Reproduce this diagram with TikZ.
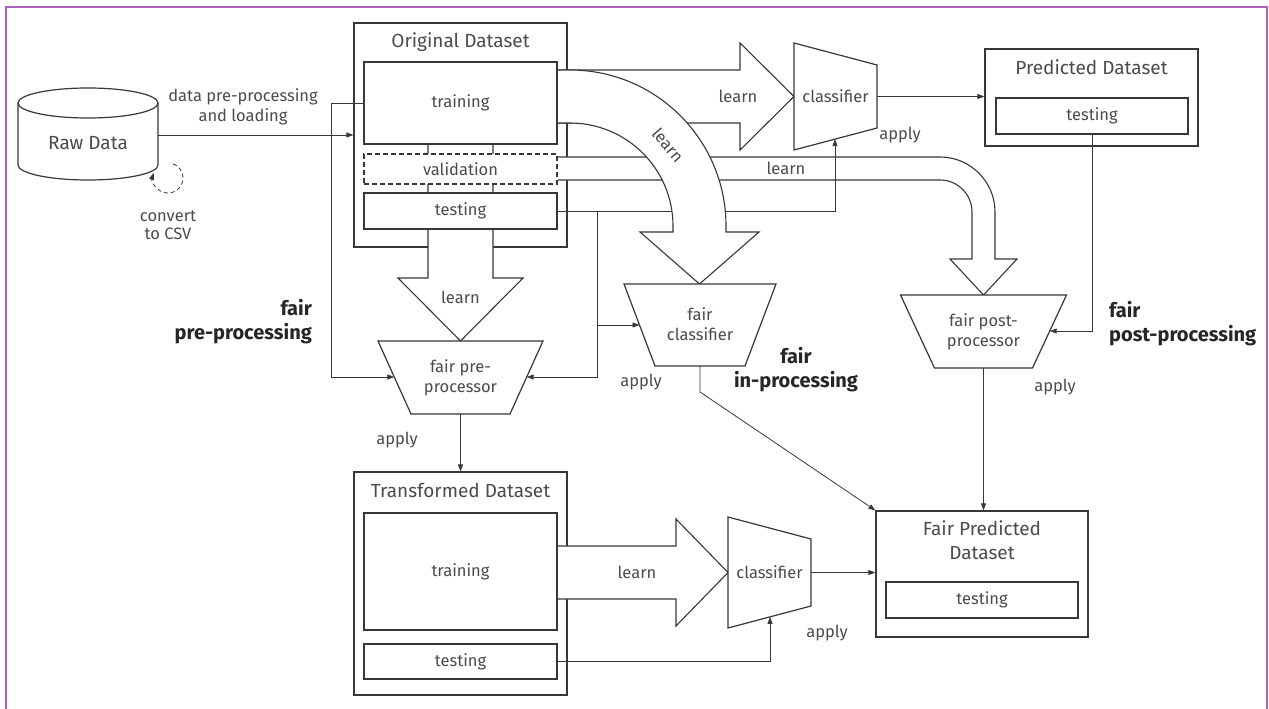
\documentclass[tikz,border=0pt]{standalone}
\usepackage{fontspec}
\setmainfont{Fira Sans}
\usetikzlibrary{arrows.meta}
\definecolor{framepurple}{RGB}{172,98,188}
\definecolor{ink}{RGB}{55,55,55}
\definecolor{txtgray}{RGB}{75,75,75}

\begin{document}
\begin{tikzpicture}[x=1pt,y=-1pt,
    box/.style={draw=ink,line width=1.2pt,fill=white,inner sep=0pt,text=txtgray,font=\fontsize{16.5}{20}\selectfont},
    dashbox/.style={box,dash pattern=on 5pt off 3pt},
    fat/.style={draw=ink,line width=1.1pt,fill=white,line join=miter},
    trap/.style={draw=ink,line width=1.2pt,fill=white,line join=miter},
    conn/.style={draw=ink,line width=0.8pt,-{Triangle[length=7pt,width=5pt]}},
    lbl/.style={text=txtgray,font=\fontsize{16.5}{20}\selectfont,inner sep=0pt,align=center},
    ttl/.style={text=txtgray,font=\fontsize{19}{24}\selectfont,inner sep=0pt,align=center},
    stage/.style={text=black!85,font=\bfseries\fontsize{20}{24}\selectfont,inner sep=0pt},
]
\useasboundingbox (0,0) rectangle (1269,709);
\draw[framepurple,line width=2pt] (6,709) -- (6,7) -- (1267,7) -- (1267,709);

% raw data
\draw[trap] (18,103) -- (18,165) arc[start angle=180,end angle=0,x radius=70,y radius=15] -- (158,103);
\draw[trap] (88,103) ellipse[x radius=70,y radius=15];
\node[ttl,minimum width=140pt,minimum height=60pt] (raw) at (88,143) {Raw Data};
\coordinate (csv) at (168,178);
\draw[draw=ink,line width=0.8pt,dash pattern=on 4pt off 3pt,-{Triangle[length=7pt,width=5pt]}] ([shift={(-70:15)}]csv) arc[start angle=-70,end angle=200,radius=15];
\node[lbl,font=\fontsize{16.5}{18}\selectfont] (csvlbl) at (168,225) {convert\\to CSV};

% dataset frames
\node[box,minimum width=213pt,minimum height=224pt] (orig) at (460.5,135) {};
\node[box,minimum width=213pt,minimum height=223pt] (trans) at (460.5,583.5) {};

% learn: pre-processing
\draw[fat] (428,144) -- (428,278) -- (398,278) -- (460.5,341) -- (523,278) -- (493,278) -- (493,144);

\node[box,minimum width=193pt,minimum height=82pt] (otrain) at (460.5,103) {training};
\node[dashbox,minimum width=193pt,minimum height=30pt] (oval) at (460.5,169) {validation};
\node[box,minimum width=193pt,minimum height=36pt] (otest) at (460.5,211) {testing};
\node[box,minimum width=193pt,minimum height=117pt] (ttrain) at (460.5,571.5) {training};
\node[box,minimum width=193pt,minimum height=35pt] (ttest) at (460.5,661.5) {testing};

% classifier corners
\coordinate (c1a) at (794,43); \coordinate (c1b) at (877,65);
\coordinate (c1c) at (877,128); \coordinate (c1d) at (794,150);
\coordinate (clf1-r) at (877,96.5); \coordinate (clf1-b) at (835,139.1);
\coordinate (c2a) at (728,517); \coordinate (c2b) at (811,539);
\coordinate (c2c) at (811,606); \coordinate (c2d) at (728,628);
\coordinate (clf2-r) at (811,572.5); \coordinate (clf2-b) at (770,616.9);

% learn: post-processing
\draw[fat] (558,180) -- (940,180) arc[start angle=-90,end angle=0,radius=32] -- (972,259) -- (950,259) -- (983.5,295) -- (1017,259) -- (995,259) -- (995,212) arc[start angle=0,end angle=-90,radius=55] -- (558,157);

\draw[conn] (otest.east) -| (clf1-b);

% learn: classifier, in-processing
\draw[fat] (558,70) -- (740,70) -- (740,43) -- (794,96.5) -- (740,150) -- (740,123) -- (558,123);
\draw[fat] (558,70) -- (570,70) arc[start angle=-90,end angle=0,radius=156] -- (726,232) -- (759,232) -- (699.5,284) -- (640,232) -- (673,232) -- (673,226) arc[start angle=0,end angle=-90,radius=103] -- (558,123);
\draw[fat] (558,546) -- (676,546) -- (676,519) -- (728,572.5) -- (676,626) -- (676,599) -- (558,599);

% processors
\coordinate (p1) at (378,341); \coordinate (p2) at (543,341);
\coordinate (p3) at (510,414); \coordinate (p4) at (411,414);
\coordinate (fpre-l) at (394.3,377); \coordinate (fpre-r) at (526.7,377);
\coordinate (fpre-b) at (460.5,414);
\coordinate (q1) at (624,284); \coordinate (q2) at (776,284);
\coordinate (q3) at (745,366); \coordinate (q4) at (655,366);
\coordinate (fclf-l) at (639.5,325); \coordinate (fclf-b) at (700,366);
\coordinate (r1) at (900.5,295); \coordinate (r2) at (1066.5,295);
\coordinate (r3) at (1032.5,368); \coordinate (r4) at (934.5,368);
\coordinate (fpost-r) at (1049.7,331); \coordinate (fpost-b) at (983.5,368);

\foreach \a/\b/\c/\d in {c1a/c1b/c1c/c1d, c2a/c2b/c2c/c2d, p1/p2/p3/p4, q1/q2/q3/q4, r1/r2/r3/r4}
  \draw[trap] (\a) -- (\b) -- (\c) -- (\d) -- cycle;

\node[lbl] (clf1) at (835.5,96.5) {classifier};
\node[lbl] (clf2) at (769.5,572.5) {classifier};
\node[lbl] (fpre) at (460.5,378) {fair pre-\\processor};
\node[lbl] (fclf) at (700,324) {fair\\classifier};
\node[lbl] (fpost) at (983.5,332) {fair post-\\processor};

% predicted datasets
\node[box,minimum width=213pt,minimum height=97pt] (pred) at (1091.5,97.5) {};
\node[box,minimum width=192pt,minimum height=36pt] (ptest) at (1092,116) {testing};
\node[box,minimum width=212pt,minimum height=126pt] (fpred) at (982,574) {};
\node[box,minimum width=192pt,minimum height=36pt] (fptest) at (982,600) {testing};

% titles
\node[ttl] (origttl) at (460.5,42) {Original Dataset};
\node[ttl] (transttl) at (460.5,490) {Transformed Dataset};
\node[ttl] (predttl) at (1091.5,67) {Predicted Dataset};
\node[ttl] (fpredttl) at (982,540) {Fair Predicted\\Dataset};

% connectors
\coordinate (tsplit) at (597,211);
\draw[conn] (raw.east |- orig.west) -- (orig.west);
\draw[conn] (otrain.west) -- ++(-32,0) |- (fpre-l);
\draw[conn] (tsplit) |- (fpre-r);
\draw[conn] (tsplit |- fclf-l) -- (fclf-l);
\draw[conn] (clf1-r) -- (clf1-r -| pred.west);
\draw[conn] (ptest.south) |- (fpost-r);
\draw[conn] (fpre-b) -- (trans.north);
\draw[conn] (fclf-b) -- ++(0,26) -- (fpred.north west);
\draw[conn] (fpost-b) -- (fpost-b |- fpred.north);
\draw[conn] (clf2-r) -- (clf2-r -| fpred.west);
\draw[conn] (ttest.east) -| (clf2-b);

% labels
\node[lbl] (dpl) at (243,107) {data pre-processing\\and loading};
\node[lbl] (learn1) at (738,96.5) {learn};
\node[lbl,rotate=-50] (learn2) at (668,145) {learn};
\node[lbl] (learn3) at (786,168) {learn};
\node[lbl] (learn4) at (460.5,297) {learn};
\node[lbl] (learn5) at (637,572.5) {learn};
\node[lbl] (apply1) at (900,135) {apply};
\node[lbl] (apply2) at (397,440) {apply};
\node[lbl] (apply3) at (641,382) {apply};
\node[lbl] (apply4) at (1055,387) {apply};
\node[lbl] (apply5) at (827,633) {apply};
\node[stage,align=right,anchor=east] (prestage) at (312,322) {fair\\pre-processing};
\node[stage,align=center] (instage) at (796,370) {fair\\in-processing};
\node[stage,align=left,anchor=west] (poststage) at (1109,324) {fair\\post-processing};
\end{tikzpicture}
\end{document}
